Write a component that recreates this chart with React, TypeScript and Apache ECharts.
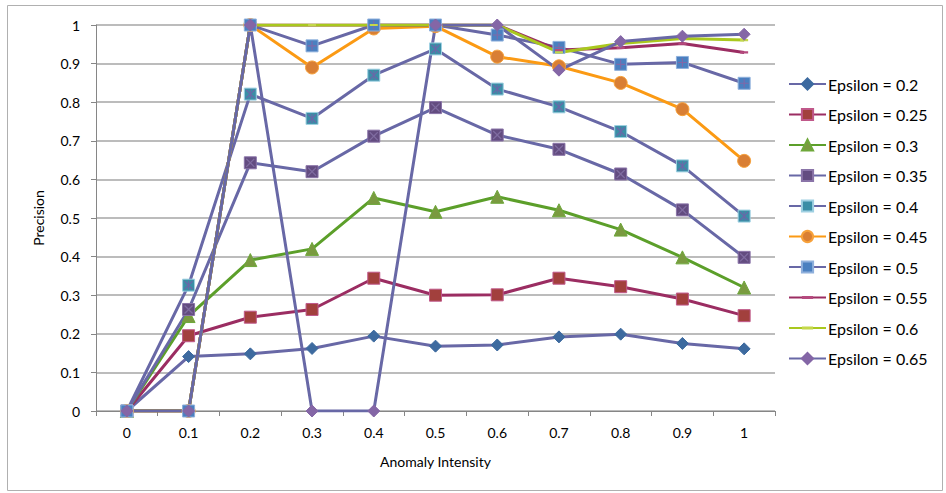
import React, { useEffect, useRef } from "react";
import * as echarts from "echarts";

// Anomaly intensity categories
const intensities = ["0", "0.1", "0.2", "0.3", "0.4", "0.5", "0.6", "0.7", "0.8", "0.9", "1"];

// Precision per epsilon setting
const eps020 = [0, 0.141, 0.148, 0.162, 0.194, 0.168, 0.171, 0.192, 0.199, 0.175, 0.161];
const eps025 = [0, 0.195, 0.243, 0.263, 0.344, 0.3, 0.301, 0.344, 0.322, 0.29, 0.247];
const eps030 = [0, 0.246, 0.391, 0.42, 0.552, 0.516, 0.555, 0.52, 0.47, 0.398, 0.32];
const eps035 = [0, 0.263, 0.643, 0.62, 0.712, 0.786, 0.715, 0.678, 0.614, 0.521, 0.398];
const eps040 = [0, 0.326, 0.821, 0.758, 0.87, 0.938, 0.834, 0.788, 0.724, 0.635, 0.505];
const eps045 = [0, 0, 1, 0.89, 0.991, 0.997, 0.918, 0.893, 0.85, 0.782, 0.648];
const eps050 = [0, 0, 1, 0.946, 1, 1, 0.974, 0.942, 0.898, 0.903, 0.849];
const eps055 = [0, 0, 1, 1, 1, 1, 1, 0.935, 0.941, 0.952, 0.929];
const eps060 = [0, 0, 1, 1, 1, 1, 1, 0.929, 0.952, 0.965, 0.961];
const eps065 = [0, 0, 1, 0, 0, 1, 1, 0.883, 0.957, 0.971, 0.976];

const seriesNames = [
  "Epsilon = 0.2",
  "Epsilon = 0.25",
  "Epsilon = 0.3",
  "Epsilon = 0.35",
  "Epsilon = 0.4",
  "Epsilon = 0.45",
  "Epsilon = 0.5",
  "Epsilon = 0.55",
  "Epsilon = 0.6",
  "Epsilon = 0.65",
];

const FONT = "Lato, 'DejaVu Sans', sans-serif";
const SLATE = "#6868a6";

// Thin glyphs drawn over the square markers (filled polygons so they render solid)
const PATH_X = "path://M0,1L1,0L5,4L9,0L10,1L6,5L10,9L9,10L5,6L1,10L0,9L4,5Z";
const PATH_STAR =
  "path://M0,1L1,0L4.4,3.4V0H5.6V3.4L9,0L10,1L6,5L10,9L9,10L5.6,6.6V10H4.4V6.6L1,10L0,9L4,5Z";
const PATH_PLUS = "path://M4.4,0H5.6V4.4H10V5.6H5.6V10H4.4V5.6H0V4.4H4.4Z";
// Short dash centred in a square box (tiny corner specks fix the bounding box)
const PATH_DASH =
  "path://M0,0L0.01,0L0,0.01Z M10,10L9.99,10L10,9.99Z M0,3.6H10V6.4H0Z";

type Style = {
  line: string;
  symbol: string;
  size: number;
  fill: string;
  border: string;
  borderWidth: number;
  overlay?: { path: string; color: string };
};

const styles: Style[] = [
  { line: SLATE, symbol: "diamond", size: 12, fill: "#3d6a9f", border: "#3d6a9f", borderWidth: 1 },
  { line: "#9b2d62", symbol: "rect", size: 12, fill: "#a2403d", border: "#c0588a", borderWidth: 1 },
  { line: "#5c9f2a", symbol: "triangle", size: 13, fill: "#7a9a40", border: "#6ea83a", borderWidth: 1 },
  { line: SLATE, symbol: "rect", size: 12, fill: "#634c80", border: "#8a74a8", borderWidth: 1, overlay: { path: PATH_X, color: "#7f6ca0" } },
  { line: SLATE, symbol: "rect", size: 12, fill: "#3a8ea6", border: "#9fd0e2", borderWidth: 1, overlay: { path: PATH_STAR, color: "#6a68a8" } },
  { line: "#fb9a14", symbol: "circle", size: 13, fill: "#d97f34", border: "#f7a13a", borderWidth: 1 },
  { line: SLATE, symbol: "rect", size: 12, fill: "#4a80c0", border: "#8fb0dc", borderWidth: 1, overlay: { path: PATH_PLUS, color: "#8068a8" } },
  { line: "#9b2d62", symbol: PATH_DASH, size: 8, fill: "#b54a7e", border: "#b54a7e", borderWidth: 0 },
  { line: "#a9c81e", symbol: PATH_DASH, size: 8, fill: "#c4d84a", border: "#c4d84a", borderWidth: 0 },
  { line: SLATE, symbol: "diamond", size: 12, fill: "#8466a6", border: "#8466a6", borderWidth: 1 },
];

const values = [eps020, eps025, eps030, eps035, eps040, eps045, eps050, eps055, eps060, eps065];

export default function App() {
  const ref = useRef<HTMLDivElement>(null);

  useEffect(() => {
    if (!ref.current) return;
    const chart = echarts.init(ref.current, undefined, { renderer: "svg" });

    const series: any[] = [];
    values.forEach((data, i) => {
      const s = styles[i];
      series.push({
        name: seriesNames[i],
        type: "line",
        data,
        symbol: s.symbol,
        symbolSize: s.size,
        showAllSymbol: true,
        lineStyle: { color: s.line, width: 3 },
        itemStyle: { color: s.fill, borderColor: s.border, borderWidth: s.borderWidth },
        emphasis: { disabled: true },
      });
      if (s.overlay) {
        series.push({
          name: seriesNames[i] + " marker",
          type: "line",
          data,
          symbol: s.overlay.path,
          symbolSize: 9,
          showAllSymbol: true,
          silent: true,
          lineStyle: { opacity: 0, width: 0 },
          itemStyle: { color: s.overlay.color, borderWidth: 0 },
          emphasis: { disabled: true },
        });
      }
    });

    chart.setOption({
      animation: false,
      backgroundColor: "#ffffff",
      graphic: [
        {
          type: "rect",
          shape: { x: 7.5, y: 5.5, width: 935, height: 485 },
          style: { fill: "none", stroke: "#b0b0b0", lineWidth: 1 },
          silent: true,
          z: -1,
        },
      ],
      grid: { left: 96, right: 171, top: 25, bottom: 82, containLabel: false },
      xAxis: {
        type: "category",
        data: intensities,
        boundaryGap: true,
        name: "Anomaly Intensity",
        nameLocation: "middle",
        nameGap: 43,
        nameTextStyle: { fontFamily: FONT, fontSize: 14, color: "#000" },
        axisLine: { lineStyle: { color: "#868686", width: 1 } },
        axisTick: { show: true, alignWithLabel: false, length: 5, lineStyle: { color: "#868686" } },
        axisLabel: { fontFamily: FONT, fontSize: 14, color: "#000", margin: 14 },
        splitLine: { show: false },
      },
      yAxis: {
        type: "value",
        min: 0,
        max: 1,
        interval: 0.1,
        name: "Precision",
        nameLocation: "middle",
        nameGap: 51,
        nameRotate: 90,
        nameTextStyle: { fontFamily: FONT, fontSize: 14, color: "#000" },
        axisLine: { show: true, lineStyle: { color: "#868686", width: 1 } },
        axisTick: { show: true, length: 5, lineStyle: { color: "#868686" } },
        axisLabel: {
          fontFamily: FONT,
          fontSize: 14,
          color: "#000",
          margin: 16,
          formatter: (v: number) => String(Math.round(v * 10) / 10),
        },
        splitLine: { show: true, lineStyle: { color: "#a6a6a6", width: 1.5 } },
      },
      legend: {
        data: seriesNames,
        orient: "vertical",
        left: 788,
        top: 76,
        padding: 0,
        itemWidth: 37,
        itemHeight: 14,
        itemGap: 14.5,
        textStyle: { fontFamily: FONT, fontSize: 16, color: "#000", lineHeight: 14, padding: [0, 0, 0, -3] },
        selectedMode: false,
      },
      series,
    });

    return () => chart.dispose();
  }, []);

  return (
    <div
      ref={ref}
      style={{ position: "fixed", left: 0, top: 0, width: 946, height: 493 }}
    />
  );
}
